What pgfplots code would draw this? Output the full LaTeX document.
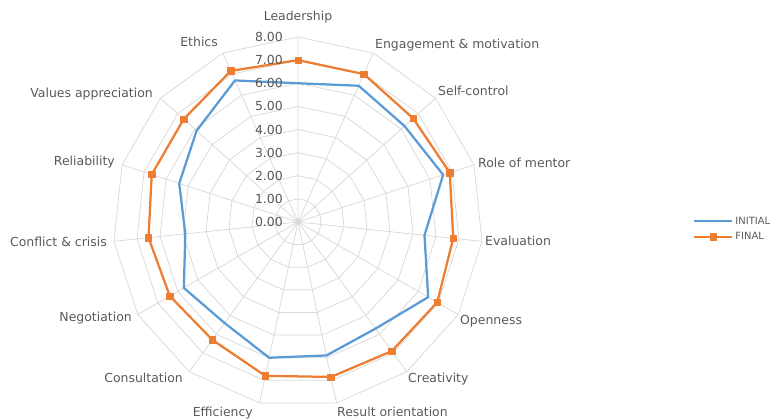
\documentclass[border=0pt]{standalone}
\usepackage{pgfplots}
\pgfplotsset{compat=1.18}
\usepackage{fontspec}
\setmainfont{DejaVu Sans}
\definecolor{ini}{HTML}{5B9BD5}
\definecolor{fin}{HTML}{ED7D31}
\definecolor{gridc}{HTML}{D9D9D9}
\definecolor{txt}{HTML}{595959}
\begin{document}
\begin{tikzpicture}
\begin{axis}[
  x=23.125bp, y=23.125bp,
  xmin=-12.886, xmax=20.670, ymin=-8.519, ymax=9.600,
  hide axis, clip=false,
  legend style={at={(0.893,0.4535)}, anchor=west, draw=none, fill=none,
    font=\fontsize{10}{11}\selectfont, text=txt, inner sep=0pt, row sep=3pt,
    cells={anchor=west}},
  legend image code/.code={\draw[mark repeat=2,mark phase=2,#1] plot coordinates {(0bp,0bp)(19bp,0bp)(38bp,0bp)};},
]
\coordinate (BL) at (rel axis cs:0,0);
\coordinate (TR) at (rel axis cs:1,1);
% grid polygons and spokes
\pgfplotsinvokeforeach{1,2,3,4,5,6,7,8}{
  \draw[gridc, line width=0.75bp]
    (axis cs:0,#1) \foreach \a in {66,42,18,-6,-30,-54,-78,-102,-126,-150,-174,-198,-222,-246} {-- (axis cs:{#1*cos(\a)},{#1*sin(\a)})} -- cycle;
}
\draw[gridc, line width=0.75bp]
  \foreach \a in {90,66,42,18,-6,-30,-54,-78,-102,-126,-150,-174,-198,-222,-246} {(axis cs:0,0) -- (axis cs:{8*cos(\a)},{8*sin(\a)})};
% data
\addplot[ini, line width=2.25bp, data cs=polar, line join=round] coordinates {
  (90,6.00) (66,6.45) (42,6.20) (18,6.60) (-6,5.50) (-30,6.50) (-54,5.70)
  (-78,5.90) (-102,6.00) (-126,5.40) (-150,5.70) (-174,4.90) (-198,5.40)
  (-222,5.90) (-246,6.70) (-270,6.00)};
\addlegendentry{INITIAL}
\addplot[fin, line width=2.25bp, data cs=polar, line join=round, mark=square*,
  mark size=3.2bp, mark options={solid, fill=fin, draw=fin, line width=0.5bp}] coordinates {
  (90,7.00) (66,7.00) (42,6.70) (18,6.90) (-6,6.75) (-30,6.95) (-54,6.90)
  (-78,6.85) (-102,6.80) (-126,6.30) (-150,6.40) (-174,6.50) (-198,6.65)
  (-222,6.65) (-246,7.15) (-270,7.00)};
\addlegendentry{FINAL}
% radial tick labels
\pgfplotsinvokeforeach{0,1,2,3,4,5,6,7,8}{
  \node[anchor=east, inner sep=0pt, text=txt, font=\fontsize{12.5}{14}\selectfont] at (axis cs:-0.65,#1) {#1.00};
}
% category labels
\begin{scope}[every node/.style={text=txt, inner sep=0pt, font=\fontsize{12.5}{14}\selectfont}]
\node[anchor=base] at (axis cs:0,8.692) {Leadership};
\node[anchor=base west] at (axis cs:3.330,7.481) {Engagement \& motivation};
\node[anchor=base west] at (axis cs:6.054,5.449) {Self-control};
\node[anchor=base west] at (axis cs:7.784,2.378) {Role of mentor};
\node[anchor=base west] at (axis cs:8.086,-0.995) {Evaluation};
\node[anchor=base west] at (axis cs:7.005,-4.411) {Openness};
\node[anchor=base west] at (axis cs:4.757,-6.919) {Creativity};
\node[anchor=base west] at (axis cs:1.686,-8.389) {Result orientation};
\node[anchor=base east] at (axis cs:-1.946,-8.389) {Efficiency};
\node[anchor=base east] at (axis cs:-4.973,-6.919) {Consultation};
\node[anchor=base east] at (axis cs:-7.178,-4.324) {Negotiation};
\node[anchor=base east] at (axis cs:-8.259,-1.038) {Conflict \& crisis};
\node[anchor=base east] at (axis cs:-7.914,2.422) {Reliability};
\node[anchor=base east] at (axis cs:-6.270,5.405) {Values appreciation};
\node[anchor=base east] at (axis cs:-3.459,7.568) {Ethics};
\end{scope}
\end{axis}
\pgfresetboundingbox
\path[use as bounding box] (BL) rectangle (TR);
\end{tikzpicture}
\end{document}
